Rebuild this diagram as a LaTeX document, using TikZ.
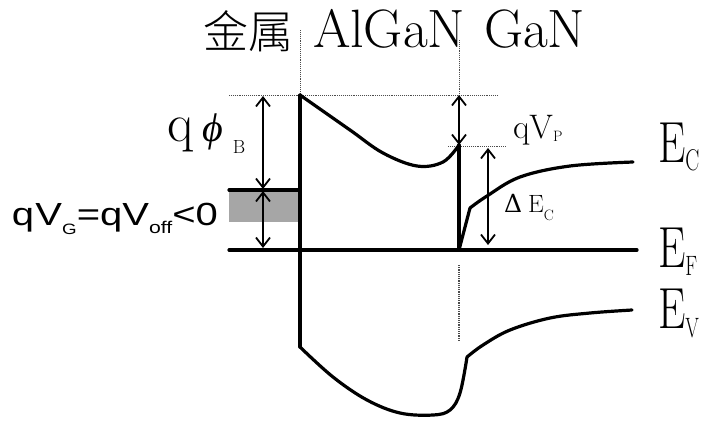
\documentclass[tikz,border=0pt]{standalone}
\usepackage{fontspec}
\IfFontExistsTF{Noto Sans CJK SC Light}
  {\newfontfamily\cjk{Noto Sans CJK SC Light}}
  {\newfontfamily\cjk{Noto Sans CJK SC}}
\newfontfamily\arial{Liberation Sans}
\newfontfamily\grk{DejaVu Serif}
\newfontfamily\grkthin{Liberation Serif}
\newcommand{\phisym}{{\grkthin\itshape\fontsize{40}{44}\selectfont
  \iffontchar\font"03D5 \char"03D5\else{\grk\itshape\fontsize{38}{42}\selectfont\char"03D5}\fi}}
\usetikzlibrary{arrows.meta}
\tikzset{
  band/.style={line width=3.2pt, line join=round, line cap=round},
  dimarrow/.style={line width=1.8pt,
    {Straight Barb[length=9pt,width=14pt,line width=1.8pt]}-{Straight Barb[length=9pt,width=14pt,line width=1.8pt]}},
  guide/.style={densely dotted, line width=0.9pt, black!70},
  lbl/.style={inner sep=0pt, outer sep=0pt, anchor=base west},
}
\begin{document}
\begin{tikzpicture}[x=1pt,y=-1pt]
\useasboundingbox (0,0) rectangle (703,424);
% named coordinates
\coordinate (ifTop) at (300,95);
\coordinate (ifBot) at (300,347);
\coordinate (hjTop) at (459,95);
\coordinate (hjMid) at (459,145);
\coordinate (hjBot) at (459,250);
\coordinate (gL) at (229,190);
\coordinate (gR) at (300,190);
\coordinate (fL) at (229,250);
\coordinate (fR) at (637,250);
% guides
\draw[guide] (300,30) -- (ifTop);
\draw[guide] (459,40) -- (hjTop);
\draw[guide] (229,95) -- (498,95);
\draw[guide] (448,146) -- (506,146);
\draw[guide, line width=1.2pt] (459,265) -- (459,342);
% gate box
\fill[black!35] (229,191) rectangle (300,222);
\draw[band] (gL) -- (gR);
% Fermi level
\draw[band] (fL) -- (fR);
% metal interface & AlGaN bands
\draw[band] (ifTop) -- (ifBot);
\draw[band] plot[smooth, tension=0.6] coordinates {(300,95) (350,130) (383,153) (417,166) (443,162) (459,145)};
\draw[band] (hjMid) -- (hjBot);
\draw[band] plot[smooth, tension=0.6] coordinates {(300,347) (333,377) (367,400) (400,413) (433,415) (450,410) (460,393) (467,357)};
% GaN bands
\draw[band] (hjBot) -- (470,208);
\draw[band] plot[smooth, tension=0.6] coordinates {(470,208) (487,196) (520,177) (570,166) (633,162)};
\draw[band] plot[smooth, tension=0.6] coordinates {(467,357) (483,345) (510,330) (550,318) (590,313) (632,310)};
% dimension arrows
\coordinate (aphiT) at (263,96);
\coordinate (aphiB) at (263,189);
\coordinate (agT) at (263,191);
\coordinate (agB) at (263,248);
\draw[dimarrow] (aphiT) -- (aphiB);
\draw[dimarrow] (agT) -- (agB);
\draw[dimarrow] (hjTop) -- (hjMid);
\coordinate (adT) at (488,148);
\coordinate (adB) at (488,245);
\draw[dimarrow] (adT) -- (adB);
% title
\node[lbl] (tmetal) at (203,48) {\cjk\fontsize{45}{50}\selectfont 金属};
\node[lbl] (talgan) at (313,47) {\fontsize{54}{60}\selectfont AlGaN};
\node[lbl] (tgan) at (484,47) {\fontsize{54}{60}\selectfont GaN};
% labels
\node[lbl] (lphi) at (167,141) {\fontsize{54}{60}\selectfont q\hspace{9pt}\phisym\hspace{10pt}\raisebox{-12pt}{\fontsize{19}{20}\selectfont B}};
\node[lbl] (lvg) at (12,225) {\scalebox{1.25}[1]{\arial\fontsize{32}{36}\selectfont q\kern1pt V\raisebox{-9pt}{\fontsize{15}{16}\selectfont G}=qV\raisebox{-8pt}{\fontsize{17}{18}\selectfont off}<0}};
\node[lbl] (lvp) at (513,138) {\fontsize{34}{40}\selectfont qV\raisebox{-3pt}{\fontsize{15}{16}\selectfont P}};
\node[lbl] (ldec) at (504,212) {\fontsize{25}{30}\selectfont{\grk Δ}\hspace{6pt}E\raisebox{-8pt}{\fontsize{15}{16}\selectfont C}};
\node[lbl] (lec) at (658,162) {\scalebox{0.75}[1]{\fontsize{58}{60}\selectfont E}\raisebox{-8pt}{\scalebox{0.7}[1]{\fontsize{30}{32}\selectfont C}}};
\node[lbl] (lef) at (658,267) {\scalebox{0.75}[1]{\fontsize{58}{60}\selectfont E}\raisebox{-8pt}{\scalebox{0.7}[1]{\fontsize{28}{32}\selectfont F}}};
\node[lbl] (lev) at (658,328) {\scalebox{0.75}[1]{\fontsize{58}{60}\selectfont E}\raisebox{-9pt}{\scalebox{0.7}[1]{\fontsize{28}{32}\selectfont V}}};
\end{tikzpicture}
\end{document}
